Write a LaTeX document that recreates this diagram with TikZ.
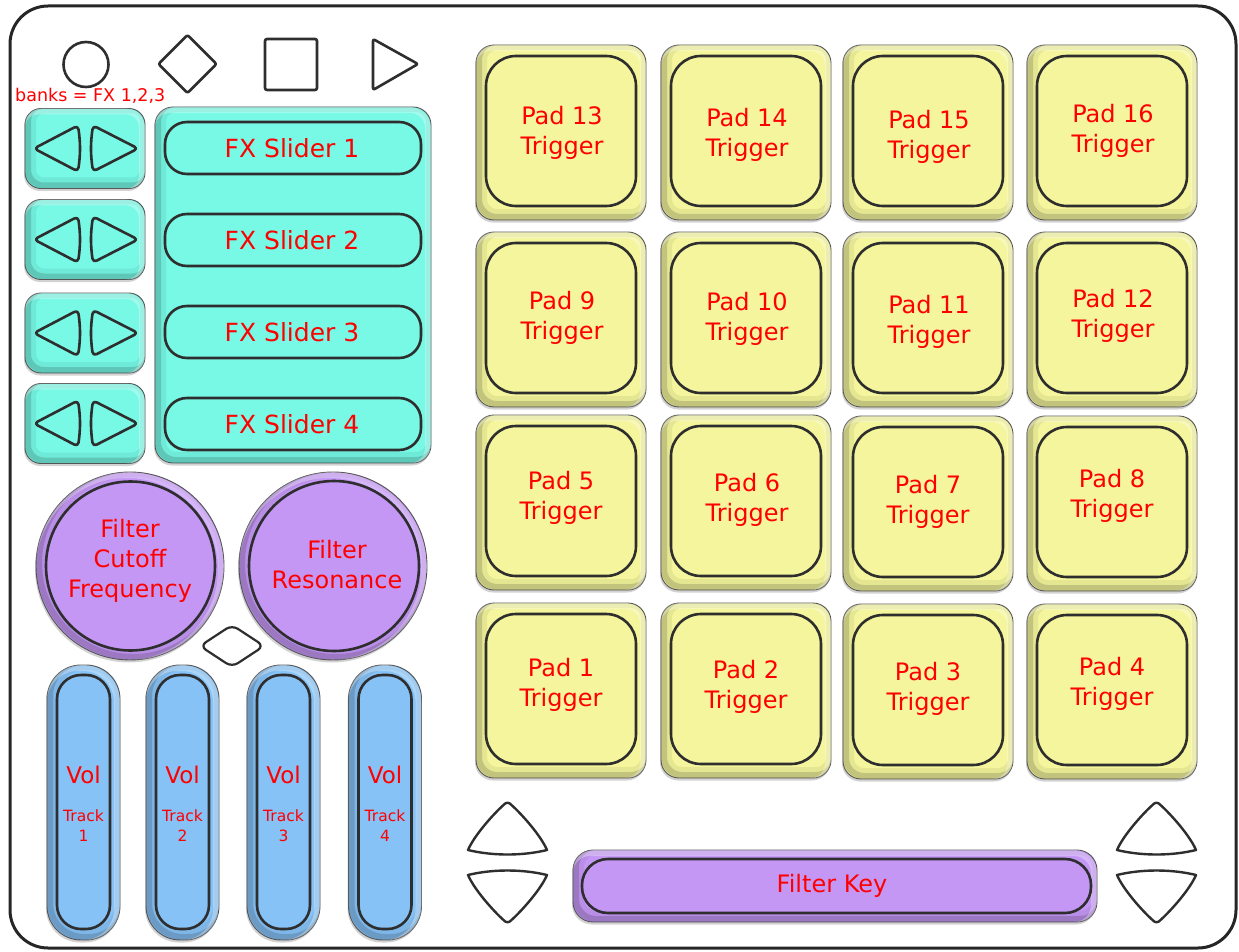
\documentclass[tikz,border=0pt]{standalone}
\usepackage{fontspec}
\setmainfont{DejaVu Sans}
\usetikzlibrary{shadows}
\definecolor{tealc}{HTML}{77F9E6}
\definecolor{yellowc}{HTML}{F4F59C}
\definecolor{purplec}{HTML}{C497F5}
\definecolor{bluec}{HTML}{86C2F6}
\definecolor{edgec}{HTML}{2E2E2E}
% bevel of a rounded box: centre x, centre y, width, height, radius
\newcommand\bevelbox[5]{%
  \begin{scope}
    \clip[rounded corners=#5] (#1-#3/2,#2-#4/2) rectangle (#1+#3/2,#2+#4/2);
    \draw[black, opacity=0.06, line width=16pt, rounded corners=#5]
      (#1-#3/2+3,#2-#4/2-3) rectangle (#1+#3/2+3,#2+#4/2-3);
    \draw[black, opacity=0.15, line width=6pt, rounded corners=#5]
      (#1-#3/2+3,#2-#4/2-3) rectangle (#1+#3/2+3,#2+#4/2-3);
    \draw[white, opacity=0.3, line width=6pt, rounded corners=#5]
      (#1-#3/2-3,#2-#4/2+3) rectangle (#1+#3/2-3,#2+#4/2+3);
  \end{scope}}
\newcommand\bevelcirc[3]{%
  \begin{scope}
    \clip (#1,#2) circle[radius=#3];
    \draw[black, opacity=0.06, line width=16pt] (#1+3,#2-3) circle[radius=#3];
    \draw[black, opacity=0.15, line width=6pt] (#1+3,#2-3) circle[radius=#3];
    \draw[white, opacity=0.3, line width=6pt] (#1-3,#2+3) circle[radius=#3];
  \end{scope}}
\begin{document}
\begin{tikzpicture}[x=1pt,y=-1pt,
  outerbox/.style={draw=black!65, line width=0.9pt, inner sep=0pt, outer sep=0pt,
     drop shadow={shadow xshift=-1pt, shadow yshift=-2.5pt, opacity=0.35}},
  innerbox/.style={draw=edgec, line width=2.6pt, inner sep=0pt, outer sep=0pt},
  lbl/.style={text=red, font=\fontsize{24}{30}\selectfont, align=center, inner sep=0pt},
  icon/.style={draw=edgec, line width=2.6pt, fill=white, line join=round},
  arrowtri/.style={draw=edgec, line width=2.6pt, fill=tealc, line join=round, rounded corners=4pt},
  navtri/.style={draw=edgec, line width=2.4pt, fill=white, line join=round}]
\useasboundingbox (0,0) rectangle (1239,952);
% frame
\draw[line width=3pt, draw=black!85, rounded corners=38pt, fill=white] (10,6) rectangle (1236,948);

% top icons
\node[icon, circle, minimum size=45pt, inner sep=0pt] (reccircle) at (86,64.5) {};
\draw[icon, rounded corners=2pt] (187.5,35) -- (216.5,64) -- (187.5,93) -- (158.5,64) -- cycle;
\draw[icon, rounded corners=2pt] (265,39) rectangle (317,90);
\draw[icon, rounded corners=2pt] (373,39) -- (418,64) -- (373,90) -- cycle;

\node[text=red, font=\fontsize{17.5}{20}\selectfont, anchor=west, inner sep=0pt] (bankslbl) at (15,96) {banks = FX 1,2,3};

% left arrow buttons
\foreach \i/\cy in {1/148.5, 2/239.5, 3/333, 4/423.5}{
  \node[outerbox, fill=tealc, rounded corners=16pt, minimum width=120pt, minimum height=80pt] (bank\i) at (85,\cy) {};
  \bevelbox{85}{\cy}{120}{80}{16pt}
  \begin{scope}[shift={(85,\cy)}]
    \draw[arrowtri] (-7,-23) to[bend left=8] (-7,23) -- (-51,0) -- cycle;
    \draw[arrowtri] (8,23) to[bend left=8] (8,-23) -- (53,0) -- cycle;
  \end{scope}
}

% FX panel
\node[outerbox, fill=tealc, rounded corners=18pt, minimum width=276pt, minimum height=356pt] (fxpanel) at (293,285) {};
\bevelbox{293}{285}{276}{356}{18pt}
\foreach \i/\cy in {1/148, 2/240, 3/332, 4/424}{
  \node[innerbox, fill=tealc, rounded corners=22pt, minimum width=256pt, minimum height=52pt] (fx\i) at (293,\cy) {};
  \node[lbl, font=\fontsize{25}{30}\selectfont] (fxt\i) at (292,\cy) {FX Slider \i};
}

% knobs
\node[outerbox, circle, fill=purplec, minimum size=188pt] (cutoffo) at (130,566) {};
\bevelcirc{130}{566}{94}
\node[innerbox, circle, fill=purplec, minimum size=169pt] (cutoff) at (130.5,566) {};
\node[lbl] (cutofft) at (130,561) {Filter\\Cutoff\\Frequency};
\node[outerbox, circle, fill=purplec, minimum size=188pt] (reso) at (333,566) {};
\bevelcirc{333}{566}{94}
\node[innerbox, circle, fill=purplec, minimum size=170pt] (res) at (334,566) {};
\node[lbl] (rest) at (337,565) {Filter\\Resonance};

% small diamond
\draw[icon, line width=2.2pt, rounded corners=7pt] (232,625) -- (264,646) -- (232,667) -- (200,646) -- cycle;

% volume sliders
\foreach \i/\cx in {1/83.5, 2/182.5, 3/283.5, 4/385}{
  \node[outerbox, fill=bluec, rounded corners=34pt, minimum width=73pt, minimum height=275pt] (volo\i) at (\cx,802.5) {};
  \bevelbox{\cx}{802.5}{73}{275}{34pt}
  \node[innerbox, fill=bluec, rounded corners=24pt, minimum width=53pt, minimum height=254pt] (vol\i) at (\cx,802) {};
  \node[lbl, font=\fontsize{23}{26}\selectfont] (volt\i) at (\cx,775) {Vol};
  \node[lbl, font=\fontsize{15.5}{20}\selectfont] (trk\i) at (\cx,826) {Track\\\i};
}

% pads
\foreach \n/\x/\y/\tx/\ty in {
  13/476/45/562/133, 14/661/45/747/135, 15/843/45/929/137, 16/1027/45/1113/131,
  9/476/232/562/318, 10/661/232/747/319, 11/843/232/929/321.5, 12/1027/232/1113/316,
  5/476/415/561/498, 6/661/415/747/500, 7/843/416/928/502, 8/1027/416/1112/496,
  1/476/603/561/685, 2/661/603/746/687, 3/843/604/928/689, 4/1027/604/1112/684}{
  \node[outerbox, fill=yellowc, rounded corners=18pt, minimum width=170pt, minimum height=175pt] (padout\n) at (\x+85,\y+87.5) {};
  \bevelbox{\x+85}{\y+87.5}{170}{175}{18pt}
  \node[innerbox, fill=yellowc, rounded corners=30pt, minimum width=150pt, minimum height=150pt] (pad\n) at (\x+85,\y+86) {};
  \node[lbl] (padt\n) at (\tx,\ty) {Pad \n\\Trigger};
}

% navigation arrows (up: ys=1, down: ys=-1)
\foreach \sx/\sy/\ys in {507.5/802/1, 507.5/923/-1, 1156.5/802/1, 1156.5/923/-1}{
  \begin{scope}[shift={(\sx,\sy)}, yscale=\ys]
    \draw[navtri] (-4,3) .. controls (-1.5,0) and (1.5,0) .. (4,3)
      .. controls (14,12) and (33,33) .. (39.5,48)
      .. controls (15,54) and (-15,54) .. (-39.5,48)
      .. controls (-33,33) and (-14,12) .. (-4,3) -- cycle;
  \end{scope}
}

% filter key
\node[outerbox, fill=purplec, rounded corners=20pt, minimum width=524pt, minimum height=72pt] (fkeyo) at (835,886) {};
\bevelbox{835}{886}{524}{72}{20pt}
\node[innerbox, fill=purplec, rounded corners=26pt, minimum width=509pt, minimum height=54pt] (fkey) at (836.5,886) {};
\node[lbl] (fkeyt) at (832,886) {Filter Key};
\end{tikzpicture}
\end{document}
